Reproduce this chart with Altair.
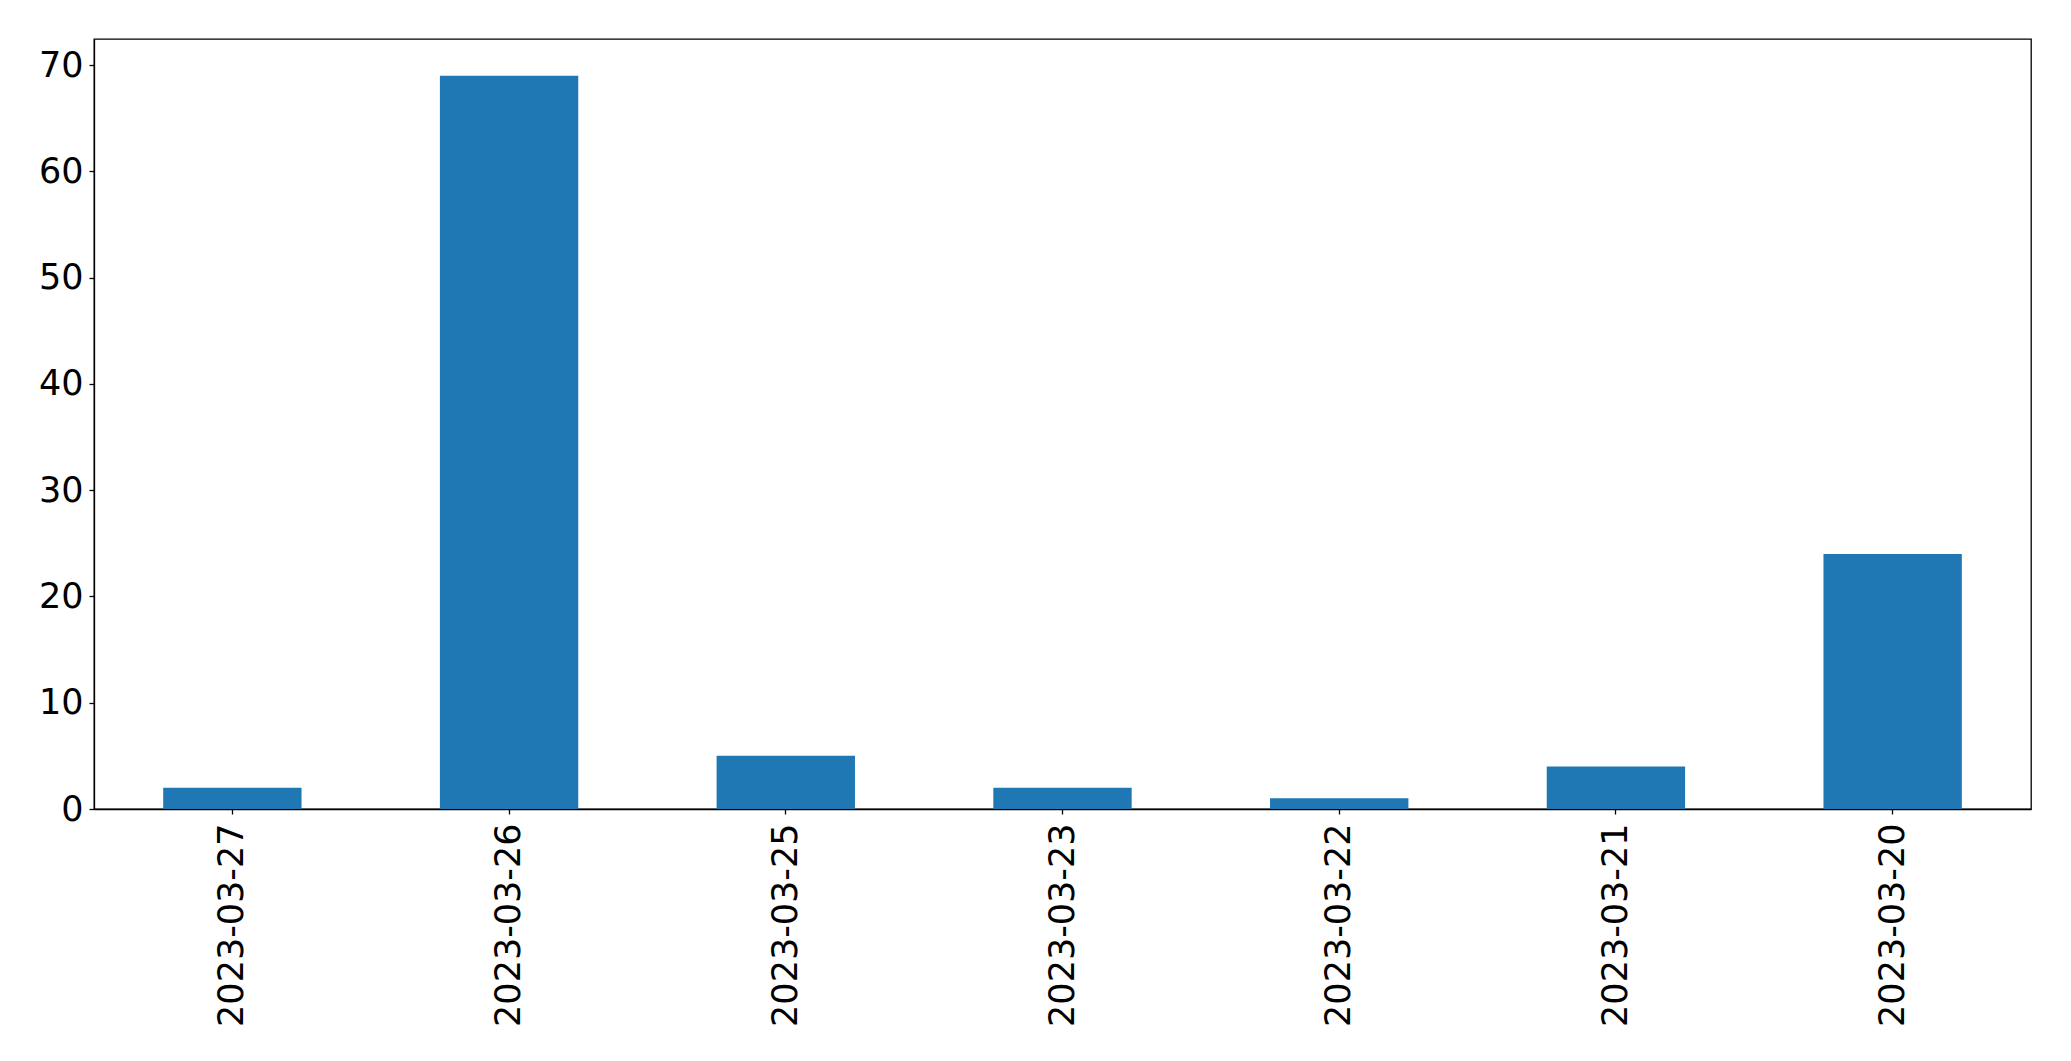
import altair as alt
import pandas as pd

dates = ["2023-03-27", "2023-03-26", "2023-03-25", "2023-03-23", "2023-03-22", "2023-03-21", "2023-03-20"]
counts = [2, 69, 5, 2, 1, 4, 24]
y_ticks = [0, 10, 20, 30, 40, 50, 60, 70]

df = pd.DataFrame({"date": dates, "count": counts})

FONT = "DejaVu Sans"

chart = (
    alt.Chart(df)
    .mark_bar(color="#1f77b4")
    .encode(
        x=alt.X(
            "date:N",
            sort=dates,
            title=None,
            scale=alt.Scale(paddingInner=0.5, paddingOuter=0.25),
            axis=alt.Axis(
                labelAngle=270,
                labelFont=FONT,
                labelFontSize=35,
                labelColor="black",
                labelPadding=9,
                labelLimit=0,
                tickSize=5,
                tickColor="black",
                tickWidth=1.3,
                domainColor="black",
                domainWidth=1.3,
                grid=False,
            ),
        ),
        y=alt.Y(
            "count:Q",
            title=None,
            scale=alt.Scale(domain=[0, 72.45], nice=False, zero=True),
            axis=alt.Axis(
                values=y_ticks,
                labelFont=FONT,
                labelFontSize=35,
                labelColor="black",
                labelPadding=6,
                tickSize=5,
                tickColor="black",
                tickWidth=1.3,
                domainColor="black",
                domainWidth=1.3,
                grid=False,
            ),
        ),
    )
    .properties(
        width=1937,
        height=770,
        autosize=alt.AutoSizeParams(type="none"),
        padding={"left": 86, "top": 31, "right": 20, "bottom": 230},
        background="white",
    )
    .configure_view(stroke="black", strokeWidth=1.3)
)

chart.save("out.html", embed_options={"renderer": "svg", "actions": False})
